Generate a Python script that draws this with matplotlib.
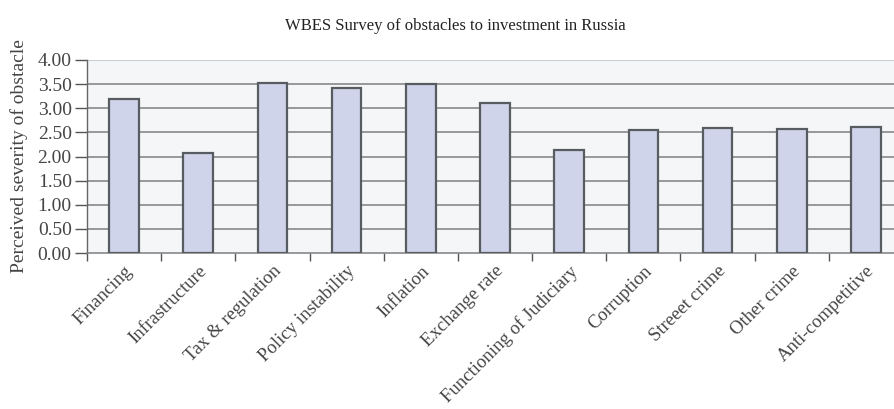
import matplotlib
matplotlib.use("Agg")
import matplotlib.pyplot as plt
import numpy as np

categories = ["Financing", "Infrastructure", "Tax & regulation", "Policy instability",
              "Inflation", "Exchange rate", "Functioning of Judiciary", "Corruption",
              "Streeet crime", "Other crime", "Anti-competitive"]
severity = [3.20, 2.08, 3.52, 3.42, 3.51, 3.11, 2.13, 2.55, 2.59, 2.56, 2.62]
y_ticks = [0.0, 0.5, 1.0, 1.5, 2.0, 2.5, 3.0, 3.5, 4.0]

plt.rcParams["font.family"] = ["Liberation Serif", "DejaVu Serif"]

fig = plt.figure(figsize=(8.94, 4.09), dpi=100)
W, H = 894, 409
left, right, top, bottom = 87, 903, 60, 253
ax = fig.add_axes([left / W, 1 - bottom / H, (right - left) / W, (bottom - top) / H])
ax.set_facecolor("#f5f6f8")

x = np.arange(len(categories))
ax.bar(x, severity, width=0.4, color="#d0d4ea", edgecolor="#575c60", linewidth=1.6, zorder=3)

ax.set_xlim(-0.5, len(categories) - 0.5)
ax.set_ylim(0, 4.0)
ax.set_yticks(y_ticks)
ax.set_yticklabels([f"{v:.2f}" for v in y_ticks], fontsize=14, color="#454545")
for v in y_ticks[1:-1]:
    ax.axhline(v, color="#7d7f80", linewidth=1.1, zorder=1)
ax.axhline(4.0, color="#c8cdd3", linewidth=1.5, zorder=1)

ax.set_xticks(np.arange(len(categories) + 1) - 0.5, minor=False)
ax.set_xticklabels([])
ax.set_xticks(x, minor=True)
ax.set_xticklabels(categories, minor=True, rotation=45, ha="right",
                   rotation_mode="anchor", fontsize=13.5, color="#454545")
ax.tick_params(axis="x", which="minor", length=0, pad=7)
ax.tick_params(axis="x", which="major", length=6, width=1, color="#555555", direction="out")
ax.tick_params(axis="y", length=9, width=1, color="#555555", direction="out", pad=2)

for s in ["top", "right"]:
    ax.spines[s].set_visible(False)
ax.spines["left"].set_color("#666666")
ax.spines["left"].set_linewidth(1.0)
ax.spines["bottom"].set_color("#7d7f80")
ax.spines["bottom"].set_linewidth(1.1)

ax.set_ylabel("Perceived severity of obstacle", fontsize=14, color="#454545", labelpad=7)
fig.text(455 / W, 1 - 26 / H, "WBES Survey of obstacles to investment in Russia",
         ha="center", va="center", fontsize=12, color="#222222")

fig.savefig("out.png", dpi=100)
